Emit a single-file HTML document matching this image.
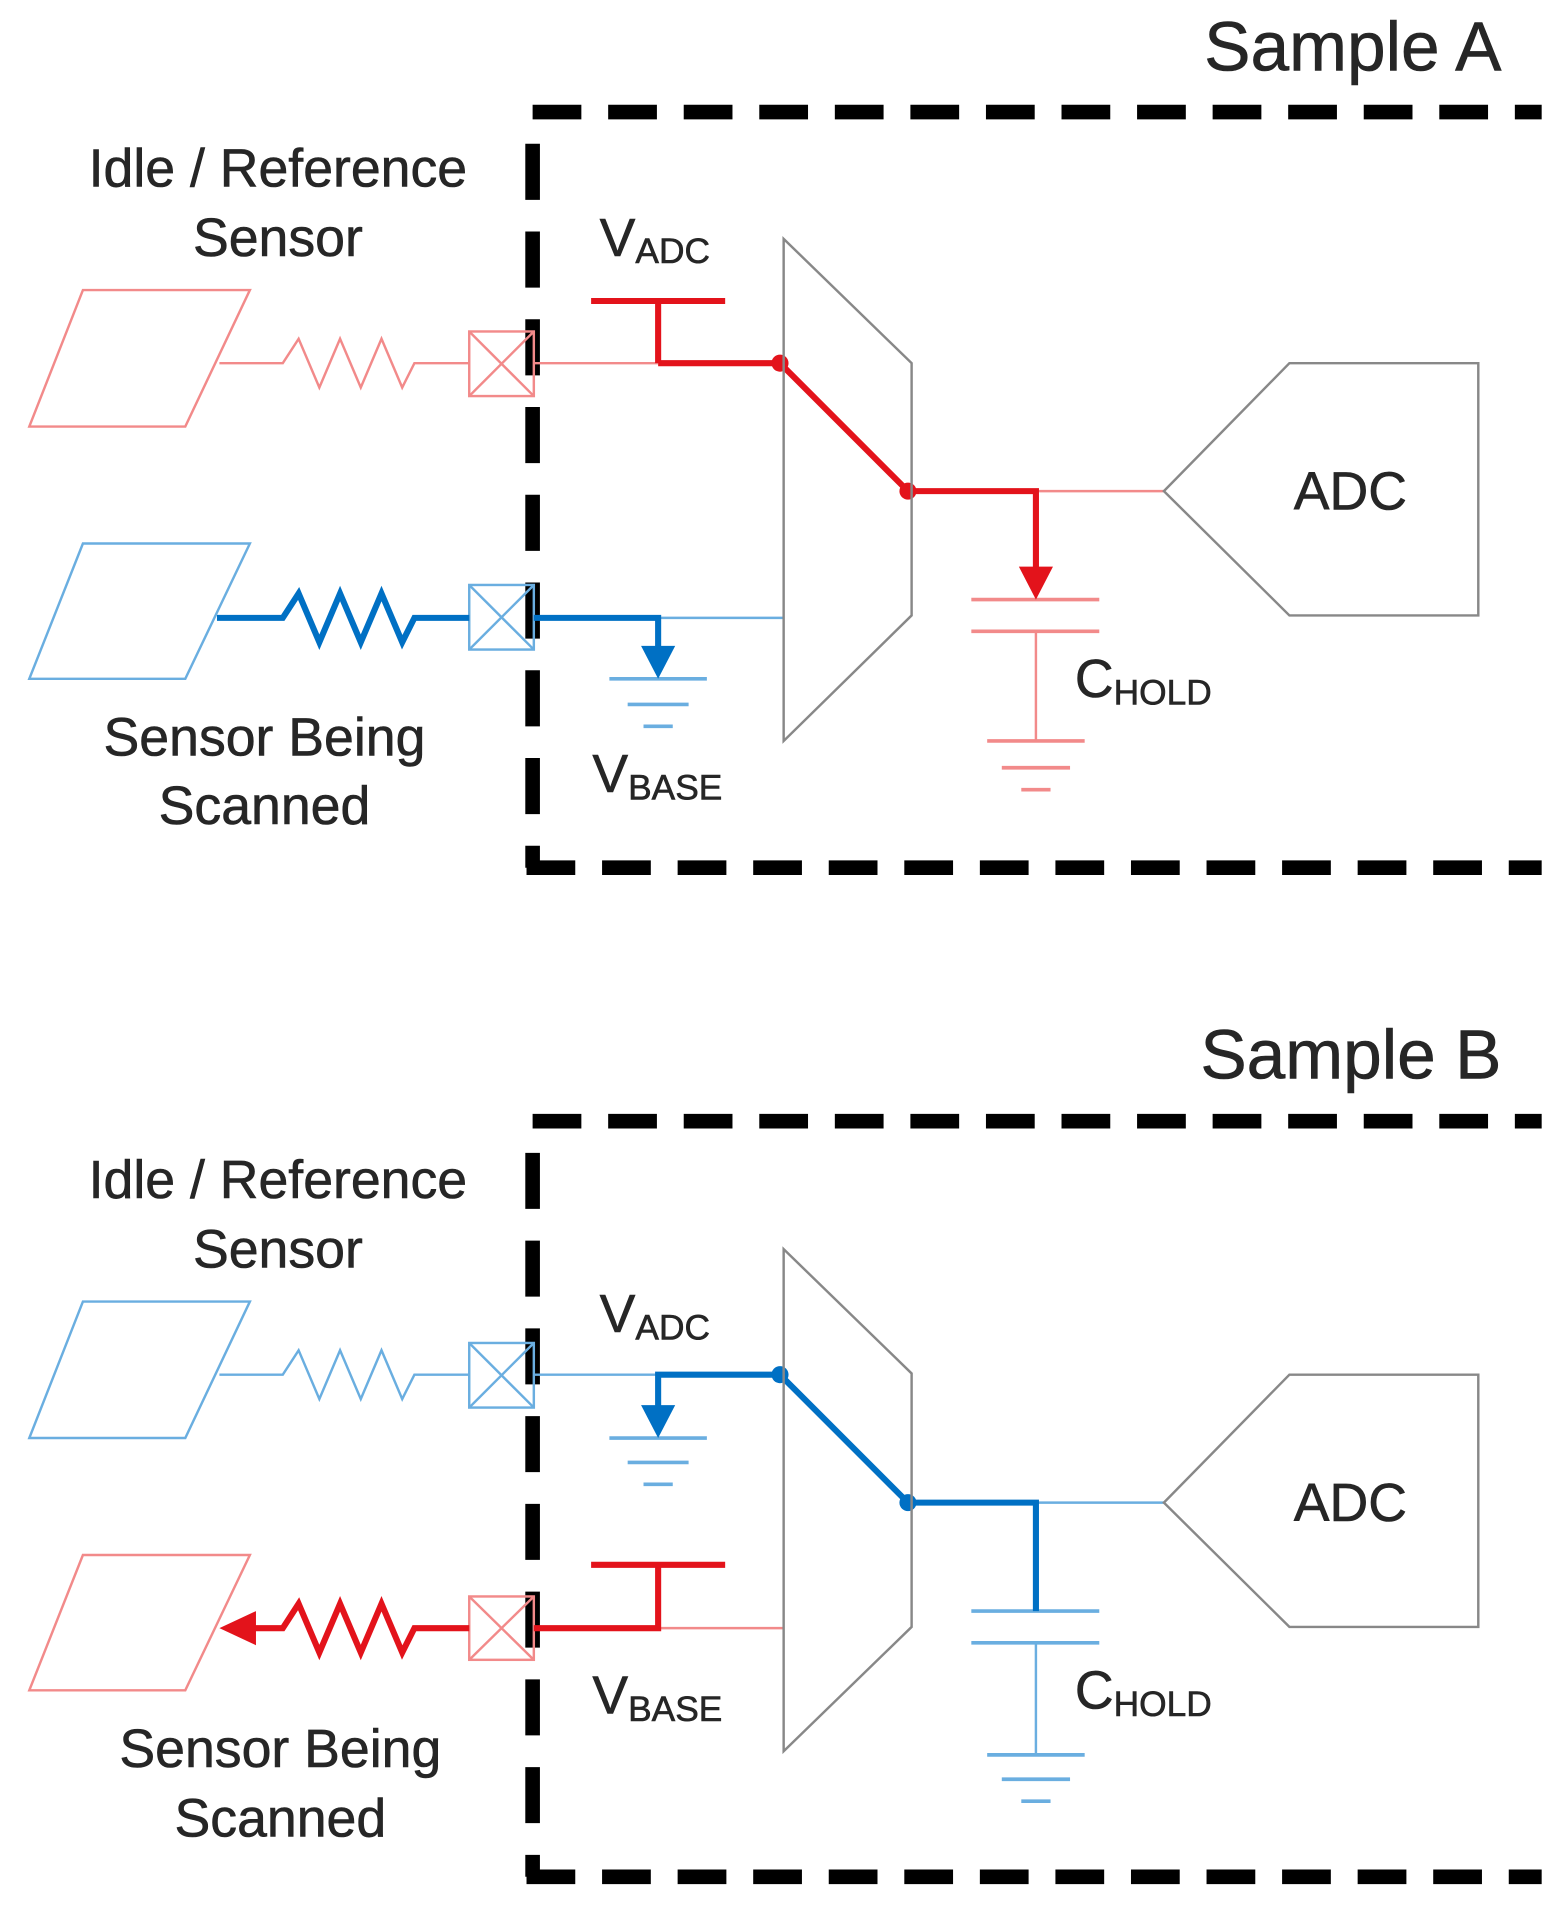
<!DOCTYPE html>
<html><head><meta charset="utf-8"><style>
html,body{margin:0;padding:0;background:#fff;}
svg{display:block;}
text{font-family:"Liberation Sans",sans-serif;fill:#262626;stroke:#262626;stroke-width:0.5;}
</style></head><body>
<svg width="1560" height="1906" viewBox="0 0 1280 1564" xmlns="http://www.w3.org/2000/svg">

<!-- ================= SAMPLE A ================= -->
<text x="1232" y="58" font-size="57" text-anchor="end">Sample A</text>
<g stroke="#000" stroke-width="12" fill="none">
<line x1="437" y1="92" x2="1265" y2="92" stroke-dasharray="40,22"/>
<line x1="437" y1="118" x2="437" y2="712" stroke-dasharray="46,26"/>
<line x1="432" y1="712" x2="1265" y2="712" stroke-dasharray="40,22"/>
</g>
<text x="228" y="153" font-size="44" text-anchor="middle">Idle / Reference</text>
<text x="228" y="210" font-size="44" text-anchor="middle">Sensor</text>

<g stroke="#f28a8a" stroke-width="2" fill="none">
<polygon points="68,238 205,238 152,350 24,350"/>
<polyline points="180,298 232,298 245,278 262,318 279,278 296,318 313,278 330,318 340,298 385,298"/>
<rect x="385" y="272" width="53" height="53"/>
<line x1="385" y1="272" x2="438" y2="325"/><line x1="438" y1="272" x2="385" y2="325"/>
<line x1="438" y1="298" x2="540" y2="298"/>
<line x1="850" y1="403" x2="955" y2="403"/>
<line x1="797" y1="492" x2="902" y2="492" stroke-width="3"/>
<line x1="797" y1="518" x2="902" y2="518" stroke-width="3"/>
<line x1="850" y1="518" x2="850" y2="608"/>
<line x1="810" y1="608" x2="890" y2="608" stroke-width="3"/>
<line x1="822" y1="630" x2="878" y2="630" stroke-width="3"/>
<line x1="838" y1="648" x2="862" y2="648" stroke-width="3"/>
</g>
<g stroke="#e3131b" stroke-width="5" fill="none">
<polyline points="540,298 640,298 745,403 850,403 850,470"/>
<polyline points="540,248 540,298"/>
<line x1="485" y1="247" x2="595" y2="247"/>
</g>
<polygon points="836,465 864,465 850,492" fill="#e3131b"/>
<circle cx="640" cy="298" r="7" fill="#e3131b"/><circle cx="745" cy="403" r="7" fill="#e3131b"/>

<g stroke="#6aaee0" stroke-width="2" fill="none">
<polygon points="68,446 205,446 152,557 24,557"/>
<rect x="385" y="480" width="53" height="53"/>
<line x1="385" y1="480" x2="438" y2="533"/><line x1="438" y1="480" x2="385" y2="533"/>
<line x1="540" y1="507" x2="643" y2="507"/>
<line x1="500" y1="557" x2="580" y2="557" stroke-width="3"/>
<line x1="515" y1="578" x2="565" y2="578" stroke-width="3"/>
<line x1="528" y1="596" x2="552" y2="596" stroke-width="3"/>
</g>
<g stroke="#0070c4" stroke-width="5" fill="none">
<polyline points="178,507 232,507 245,487 262,527 279,487 296,527 313,487 330,527 340,507 385,507"/>
<polyline points="438,507 540,507 540,535"/>
</g>
<polygon points="526,530 554,530 540,557" fill="#0070c4"/>

<g stroke="#888" stroke-width="2" fill="none">
<polygon points="643,196 748,298 748,505 643,608"/>
<polygon points="955,403 1058,298 1213,298 1213,505 1058,505"/>
</g>
<text x="1108" y="418" font-size="44" text-anchor="middle">ADC</text>
<text x="492" y="210" font-size="44">V<tspan font-size="29" dy="6">ADC</tspan></text>
<text x="882" y="572" font-size="44">C<tspan font-size="29" dy="6">HOLD</tspan></text>
<text x="486" y="650" font-size="44">V<tspan font-size="29" dy="6">BASE</tspan></text>
<text x="217" y="620" font-size="44" text-anchor="middle">Sensor Being</text>
<text x="217" y="676" font-size="44" text-anchor="middle">Scanned</text>

<!-- ================= SAMPLE B ================= -->
<text x="1232" y="885" font-size="57" text-anchor="end">Sample B</text>
<g stroke="#000" stroke-width="12" fill="none">
<line x1="437" y1="920" x2="1265" y2="920" stroke-dasharray="40,22"/>
<line x1="437" y1="946" x2="437" y2="1540" stroke-dasharray="46,26"/>
<line x1="432" y1="1540" x2="1265" y2="1540" stroke-dasharray="40,22"/>
</g>
<text x="228" y="983" font-size="44" text-anchor="middle">Idle / Reference</text>
<text x="228" y="1040" font-size="44" text-anchor="middle">Sensor</text>

<g stroke="#6aaee0" stroke-width="2" fill="none">
<polygon points="68,1068 205,1068 152,1180 24,1180"/>
<polyline points="180,1128 232,1128 245,1108 262,1148 279,1108 296,1148 313,1108 330,1148 340,1128 385,1128"/>
<rect x="385" y="1102" width="53" height="53"/>
<line x1="385" y1="1102" x2="438" y2="1155"/><line x1="438" y1="1102" x2="385" y2="1155"/>
<line x1="438" y1="1128" x2="540" y2="1128"/>
<line x1="500" y1="1180" x2="580" y2="1180" stroke-width="3"/>
<line x1="515" y1="1200" x2="565" y2="1200" stroke-width="3"/>
<line x1="528" y1="1218" x2="552" y2="1218" stroke-width="3"/>
<line x1="850" y1="1233" x2="955" y2="1233"/>
<line x1="797" y1="1322" x2="902" y2="1322" stroke-width="3"/>
<line x1="797" y1="1348" x2="902" y2="1348" stroke-width="3"/>
<line x1="850" y1="1348" x2="850" y2="1440"/>
<line x1="810" y1="1440" x2="890" y2="1440" stroke-width="3"/>
<line x1="822" y1="1460" x2="878" y2="1460" stroke-width="3"/>
<line x1="838" y1="1478" x2="862" y2="1478" stroke-width="3"/>
</g>
<g stroke="#0070c4" stroke-width="5" fill="none">
<polyline points="540,1158 540,1128 640,1128 745,1233 850,1233 850,1322"/>
</g>
<polygon points="526,1153 554,1153 540,1180" fill="#0070c4"/>
<circle cx="640" cy="1128" r="7" fill="#0070c4"/><circle cx="745" cy="1233" r="7" fill="#0070c4"/>

<g stroke="#f28a8a" stroke-width="2" fill="none">
<polygon points="68,1276 205,1276 152,1387 24,1387"/>
<rect x="385" y="1310" width="53" height="52"/>
<line x1="385" y1="1310" x2="438" y2="1362"/><line x1="438" y1="1310" x2="385" y2="1362"/>
<line x1="540" y1="1336" x2="643" y2="1336"/>
</g>
<g stroke="#e3131b" stroke-width="5" fill="none">
<polyline points="205,1336 232,1336 245,1316 262,1356 279,1316 296,1356 313,1316 330,1356 340,1336 385,1336"/>
<polyline points="438,1336 540,1336 540,1285"/>
<line x1="485" y1="1284" x2="595" y2="1284"/>
</g>
<polygon points="180,1336 210,1322 210,1350" fill="#e3131b"/>

<g stroke="#888" stroke-width="2" fill="none">
<polygon points="643,1025 748,1127 748,1335 643,1437"/>
<polygon points="955,1233 1058,1128 1213,1128 1213,1335 1058,1335"/>
</g>
<text x="1108" y="1248" font-size="44" text-anchor="middle">ADC</text>
<text x="492" y="1093" font-size="44">V<tspan font-size="29" dy="6">ADC</tspan></text>
<text x="882" y="1402" font-size="44">C<tspan font-size="29" dy="6">HOLD</tspan></text>
<text x="486" y="1406" font-size="44">V<tspan font-size="29" dy="6">BASE</tspan></text>
<text x="230" y="1450" font-size="44" text-anchor="middle">Sensor Being</text>
<text x="230" y="1507" font-size="44" text-anchor="middle">Scanned</text>
</svg>
</body></html>
